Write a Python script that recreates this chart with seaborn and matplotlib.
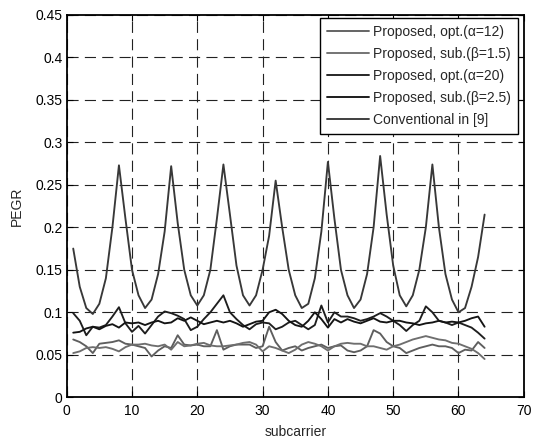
import matplotlib
matplotlib.use("Agg")
import matplotlib.pyplot as plt
import seaborn as sns
import numpy as np
import pandas as pd

subcarrier = list(range(1, 65))

conventional = [0.175, 0.13, 0.105, 0.098, 0.11, 0.14, 0.20, 0.273,
                0.21, 0.15, 0.12, 0.105, 0.115, 0.145, 0.195, 0.272,
                0.205, 0.15, 0.12, 0.108, 0.12, 0.15, 0.21, 0.274,
                0.215, 0.155, 0.12, 0.108, 0.12, 0.15, 0.19, 0.255,
                0.20, 0.15, 0.12, 0.105, 0.11, 0.14, 0.195, 0.277,
                0.21, 0.15, 0.12, 0.105, 0.115, 0.145, 0.20, 0.284,
                0.215, 0.155, 0.12, 0.107, 0.12, 0.15, 0.20, 0.274,
                0.20, 0.145, 0.115, 0.10, 0.105, 0.13, 0.165, 0.215]

opt_a20 = [0.099, 0.09, 0.073, 0.083, 0.082, 0.085, 0.095, 0.106,
           0.087, 0.077, 0.084, 0.075, 0.085, 0.095, 0.101, 0.099,
           0.096, 0.092, 0.079, 0.083, 0.092, 0.10, 0.11, 0.12,
           0.10, 0.092, 0.085, 0.08, 0.086, 0.088, 0.087, 0.08,
           0.083, 0.088, 0.09, 0.085, 0.08, 0.085, 0.108, 0.088,
           0.10, 0.095, 0.095, 0.093, 0.09, 0.092, 0.095, 0.099,
           0.095, 0.09, 0.085, 0.078, 0.085, 0.09, 0.107, 0.10,
           0.09, 0.088, 0.085, 0.088, 0.085, 0.082, 0.076, 0.069]

sub_b25 = [0.076, 0.077, 0.081, 0.083, 0.08, 0.084, 0.086, 0.082,
           0.088, 0.087, 0.088, 0.085, 0.088, 0.09, 0.087, 0.088,
           0.093, 0.09, 0.094, 0.09, 0.086, 0.088, 0.09, 0.088,
           0.09, 0.087, 0.083, 0.086, 0.089, 0.09, 0.10, 0.103,
           0.098, 0.09, 0.085, 0.083, 0.09, 0.10, 0.092, 0.082,
           0.092, 0.088, 0.092, 0.089, 0.087, 0.09, 0.093, 0.089,
           0.088, 0.09, 0.09, 0.088, 0.087, 0.085, 0.087, 0.088,
           0.09, 0.088, 0.089, 0.088, 0.09, 0.093, 0.095, 0.083]

opt_a12 = [0.068, 0.065, 0.06, 0.052, 0.063, 0.064, 0.065, 0.067,
           0.063, 0.062, 0.06, 0.058, 0.048, 0.055, 0.06, 0.058,
           0.073, 0.062, 0.061, 0.062, 0.06, 0.06, 0.079, 0.056,
           0.06, 0.062, 0.062, 0.062, 0.058, 0.06, 0.083, 0.065,
           0.055, 0.058, 0.06, 0.055, 0.058, 0.06, 0.062, 0.058,
           0.06, 0.061, 0.055, 0.053, 0.055, 0.06, 0.079, 0.075,
           0.065, 0.06, 0.058, 0.052, 0.055, 0.058, 0.06, 0.062,
           0.06, 0.06, 0.058, 0.052, 0.056, 0.055, 0.065, 0.058]

sub_b15 = [0.052, 0.054, 0.058, 0.059, 0.058, 0.059, 0.057, 0.054,
           0.059, 0.062, 0.062, 0.063, 0.061, 0.06, 0.062, 0.056,
           0.065, 0.06, 0.061, 0.063, 0.064, 0.061, 0.06, 0.06,
           0.061, 0.062, 0.064, 0.065, 0.062, 0.054, 0.06, 0.058,
           0.055, 0.052, 0.056, 0.062, 0.065, 0.063, 0.06, 0.055,
           0.06, 0.063, 0.064, 0.063, 0.063, 0.06, 0.06, 0.058,
           0.056, 0.06, 0.062, 0.065, 0.068, 0.07, 0.072, 0.07,
           0.068, 0.067, 0.064, 0.063, 0.06, 0.057, 0.052, 0.045]

labels = ["Proposed, opt.(\u03b1=12)", "Proposed, sub.(\u03b2=1.5)",
          "Proposed, opt.(\u03b1=20)", "Proposed, sub.(\u03b2=2.5)",
          "Conventional in [9]"]
series = [opt_a12, sub_b15, opt_a20, sub_b25, conventional]
colors = ["#5e5e5e", "#6e6e6e", "#1e1e1e", "#141414", "#383838"]

frames = []
for lab, vals in zip(labels, series):
    frames.append(pd.DataFrame({"subcarrier": subcarrier, "PEGR": vals, "method": lab}))
df = pd.concat(frames, ignore_index=True)

sns.set_theme(style="ticks")
plt.rcParams["font.family"] = ["Liberation Sans", "DejaVu Sans"]
plt.rcParams["lines.scale_dashes"] = False

fig = plt.figure(figsize=(5.4, 4.38), dpi=100)
ax = fig.add_axes([0.1235, 0.093, 0.8465, 0.873])

sns.lineplot(data=df, x="subcarrier", y="PEGR", hue="method",
             hue_order=labels, palette=dict(zip(labels, colors)),
             linewidth=1.35, ax=ax, legend=True)

ax.set_xlim(0, 70)
ax.set_ylim(0, 0.45)
ax.set_xticks(np.arange(0, 71, 10))
ax.set_yticks(np.arange(0, 0.451, 0.05))
ax.set_yticklabels(["0", "0.05", "0.1", "0.15", "0.2", "0.25", "0.3", "0.35", "0.4", "0.45"])
ax.grid(True, color="#222222", linestyle=(0, (8, 4.5)), linewidth=0.8)
ax.set_axisbelow(True)
ax.tick_params(direction="in", length=4, width=0.8, top=True, right=True,
               labelsize=10, colors="black")
ax.tick_params(axis="x", pad=5)
ax.tick_params(axis="y", pad=3)
for s in ax.spines.values():
    s.set_visible(True)
    s.set_color("black")
    s.set_linewidth(1.3)
ax.set_xlabel("subcarrier", fontsize=10, labelpad=5)
ax.set_ylabel("PEGR", fontsize=10, labelpad=8)

leg = ax.legend(loc="upper right", bbox_to_anchor=(0.99, 0.995), fontsize=10,
                frameon=True, fancybox=False, edgecolor="black",
                handlelength=3.0, handletextpad=0.3, labelspacing=0.58,
                borderpad=0.5, borderaxespad=0.1)
leg.get_frame().set_linewidth(1.0)
leg.get_frame().set_alpha(1)

fig.savefig("out.png", dpi=100)
